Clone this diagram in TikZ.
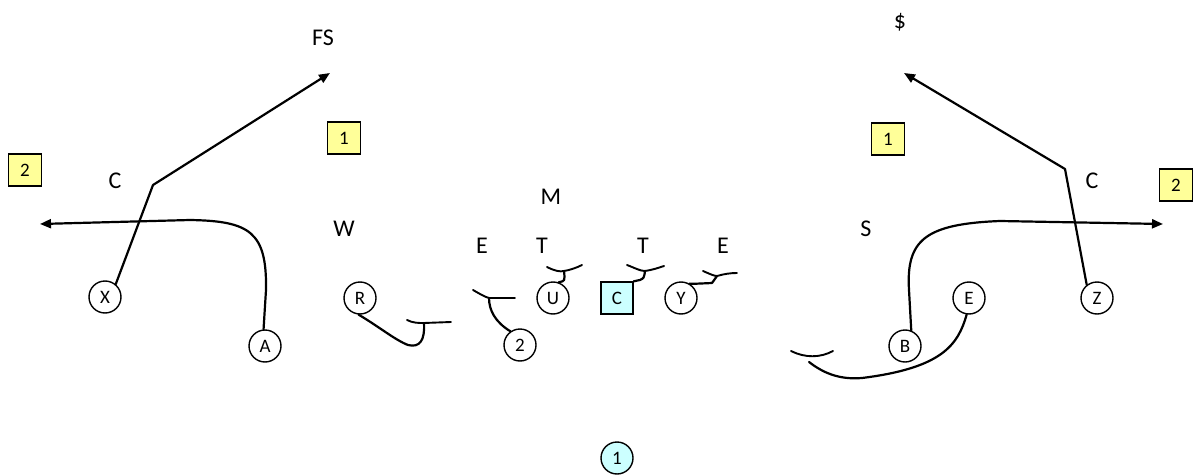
\documentclass[tikz,border=0pt]{standalone}
\usepackage{fontspec}
\setmainfont{Carlito}
\usetikzlibrary{arrows.meta}
\definecolor{numyellow}{HTML}{FFFF99}
\definecolor{ballcyan}{HTML}{CCFFFF}
\tikzset{
  lbl/.style={font=\fontsize{24}{28}\selectfont, inner sep=0pt},
  player/.style={circle, draw=black, line width=1.4pt, minimum size=32pt, inner sep=0pt, font=\fontsize{19}{22}\selectfont},
  ctr/.style={rectangle, draw=black, line width=1.4pt, fill=ballcyan, minimum size=32pt, inner sep=0pt, font=\fontsize{19}{22}\selectfont},
  ball/.style={player, fill=ballcyan},
  num/.style={rectangle, draw=black, line width=1.4pt, fill=numyellow, minimum width=33pt, minimum height=32pt, inner sep=0pt, font=\fontsize{19}{22}\selectfont},
  route/.style={line width=2.2pt, line cap=round, line join=round},
  routearrow/.style={route, -{Triangle[length=11pt,width=9pt]}},
  blockmark/.style={line width=1.9pt, line cap=round},
}
\begin{document}
\begin{tikzpicture}[x=1pt,y=-1pt]
\useasboundingbox (0,0) rectangle (1196,476);
% labels
\node[lbl] (FS) at (323,38) {FS};
\node[lbl] (dol) at (900,22) {\$};
\node[num] (n1a) at (344,138) {1};
\node[num] (n1b) at (888,139) {1};
\node[num] (n2a) at (25,170) {2};
\node[num] (n2b) at (1176,185) {2};
\node[lbl] (Ca) at (115,181) {C};
\node[lbl] (Cb) at (1092,181) {C};
\node[lbl] (M) at (551,197) {M};
\node[lbl] (W) at (344,229) {W};
\node[lbl] (E1) at (482,246) {E};
\node[lbl] (T1) at (542,246) {T};
\node[lbl] (T2) at (643,246) {T};
\node[lbl] (E2) at (723,246) {E};
\node[lbl] (S) at (866,229) {S};
% players
\node[player] (X) at (105,297) {X};
\node[player] (A) at (265,346) {A};
\node[player] (R) at (360,298) {R};
\node[player] (P2) at (520,345) {2};
\node[player] (U) at (553,298) {U};
\node[ctr] (Cc) at (617,298) {C};
\node[player] (Y) at (681,298) {Y};
\node[player] (Ep) at (969,298) {E};
\node[player] (B) at (905,346) {B};
\node[player] (Z) at (1097,298) {Z};
\node[ball] (Q) at (617,458) {1};
% route coordinates
\coordinate (xb) at (153,185);
\coordinate (xt) at (330,73);
\coordinate (at) at (40,224);
\coordinate (zb) at (1065,169);
\coordinate (zt) at (904,73);
\coordinate (bt) at (1163,224);
% X post
\draw[routearrow] (X.50) -- (xb) -- (xt);
% A route
\draw[routearrow] (A.95) -- (266,290) .. controls (267,232) and (250,221) .. (190,220) -- (at);
% Z post
\draw[routearrow] (Z.128) -- (zb) -- (zt);
% B route
\draw[routearrow] (B.68) -- (909,290) .. controls (906,240) and (925,224) .. (1000,221) -- (bt);
% E route
\draw[route] (Ep.262) .. controls (958,345) and (942,368) .. (862,378) .. controls (838,380) and (822,372) .. (809,362);
\draw[blockmark] (791,351) .. controls (805,358) and (820,358) .. (833,351);
% R route and block
\draw[route] (R.265) .. controls (378,326) and (395,340) .. (408,345) .. controls (420,348) and (425,340) .. (424,323);
\draw[blockmark] (407,320) .. controls (413,323) and (418,323) .. (424,323) -- (451,322);
% 2 route and block
\draw[route] (P2.125) .. controls (495,322) and (489,310) .. (489,298);
\draw[blockmark] (473,290) .. controls (480,294) and (485,297) .. (489,298) -- (515,298);
% U block
\draw[route] (U.70) .. controls (565,281) .. (564,271);
\draw[blockmark] (547,267) .. controls (555,271) and (560,272) .. (564,271) .. controls (570,270) and (576,268) .. (582,265);
% C block
\draw[route] (Cc.north east) -- (640,280) .. controls (644,278) .. (645,271);
\draw[blockmark] (627,265) .. controls (635,268) and (640,271) .. (645,271) .. controls (652,270) and (658,268) .. (664,266);
% Y block
\draw[route] (Y.60) .. controls (690,284) .. (712,283) -- (717,276);
\draw[blockmark] (703,271) .. controls (710,274) and (714,276) .. (717,276) .. controls (724,274) and (730,273) .. (737,273);
\end{tikzpicture}
\end{document}
